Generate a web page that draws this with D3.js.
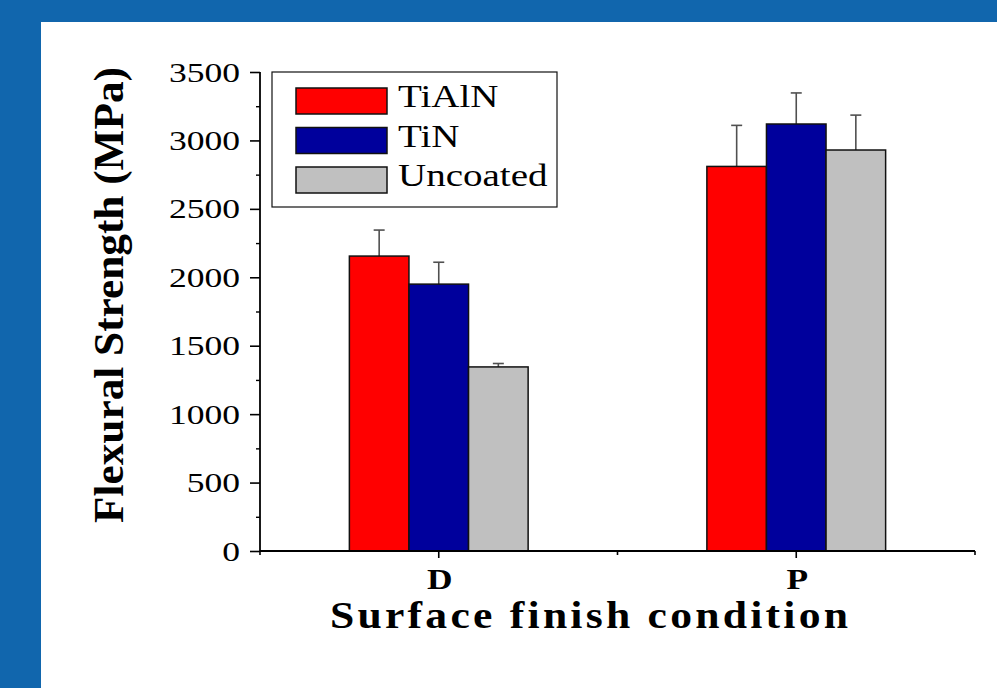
<!DOCTYPE html>
<html>
<head>
<meta charset="utf-8">
<script src="https://cdn.jsdelivr.net/npm/d3@7"></script>
<style>
  body { margin: 0; background: #1166ad; }
  svg { display: block; }
</style>
</head>
<body>
<script>
// data
const categories = ["D", "P"];
const series = ["TiAlN", "TiN", "Uncoated"];
const tialn = [2155, 2810];
const tin = [1950, 3120];
const uncoated = [1345, 2930];
const tialnErr = [190, 300];
const tinErr = [160, 227];
const uncoatedErr = [25, 255];
const yTicks = [0, 500, 1000, 1500, 2000, 2500, 3000, 3500];
const yMinor = [250, 750, 1250, 1750, 2250, 2750, 3250];

const values = [tialn, tin, uncoated];
const errors = [tialnErr, tinErr, uncoatedErr];
const colours = ["#ff0000", "#00009c", "#c0c0c0"];

const W = 997, H = 688;
const font = "'Liberation Serif', 'Times New Roman', serif";

const svg = d3.select("body").append("svg")
  .attr("width", W)
  .attr("height", H);

// blue frame + white sheet
svg.append("rect").attr("width", W).attr("height", H).attr("fill", "#1166ad");
svg.append("rect").attr("x", 41).attr("y", 22).attr("width", W - 41).attr("height", H - 22).attr("fill", "white");

const x0 = d3.scaleBand().domain(categories).range([260, 975]);
const x1 = d3.scaleBand().domain(series).range([0, x0.bandwidth()]).paddingInner(0).paddingOuter(1.5);
const y = d3.scaleLinear().domain([0, 3500]).range([551, 72]);

// stretched text helper (the picture is wider than the type)
function label(g, txt, x, yy, size, sx, anchor, weight) {
  return g.append("text")
    .attr("transform", `translate(${x},${yy}) scale(${sx},1)`)
    .attr("text-anchor", anchor)
    .attr("font-family", font)
    .attr("font-size", size)
    .attr("font-weight", weight || "normal")
    .attr("fill", "black")
    .text(txt);
}

// bars
const bars = svg.append("g").attr("id", "bars");
for (let s = 0; s < series.length; s += 1) {
  for (let c = 0; c < categories.length; c += 1) {
    const bx = x0(categories[c]) + x1(series[s]);
    const v = values[s][c];
    const e = errors[s][c];
    const cx = bx + x1.bandwidth() / 2;
    // error bar (upper only)
    bars.append("line")
      .attr("x1", cx).attr("x2", cx)
      .attr("y1", y(v)).attr("y2", y(v + e))
      .attr("stroke", "#505050").attr("stroke-width", 1.6);
    bars.append("line")
      .attr("x1", cx - 5.5).attr("x2", cx + 5.5)
      .attr("y1", y(v + e)).attr("y2", y(v + e))
      .attr("stroke", "#505050").attr("stroke-width", 1.6);
    bars.append("rect")
      .attr("x", bx)
      .attr("y", y(v))
      .attr("width", x1.bandwidth())
      .attr("height", y(0) - y(v))
      .attr("fill", colours[s])
      .attr("stroke", "#111")
      .attr("stroke-width", 1.5);
  }
}

// y axis
const yAxis = svg.append("g").attr("transform", "translate(260,0)")
  .call(d3.axisLeft(y).tickValues(yTicks).tickSize(10).tickFormat(d3.format("d")));
yAxis.select(".domain").attr("stroke-width", 1.8).attr("d", `M0,${y(3500)}V${y(0)}`);
yAxis.selectAll(".tick line").attr("stroke-width", 1.6);
yAxis.selectAll(".tick text").remove();
svg.append("g").attr("transform", "translate(260,0)")
  .call(d3.axisLeft(y).tickValues(yMinor).tickSize(4).tickFormat(""))
  .call(g => g.select(".domain").remove())
  .selectAll(".tick line").attr("stroke-width", 1.4);
const yl = svg.append("g");
yTicks.forEach(t => label(yl, String(t), 240, y(t) + 9.5, 28, 1.27, "end"));

// x axis
const xAxis = svg.append("g").attr("transform", `translate(0,${y(0)})`)
  .call(d3.axisBottom(x0).tickSize(7).tickFormat(""));
xAxis.select(".domain").attr("stroke-width", 1.8).attr("d", "M260,0H975");
xAxis.selectAll(".tick line").attr("stroke-width", 1.6);
const edges = [x0.range()[0], x0(categories[1]), x0.range()[1]];
edges.forEach(ex => {
  svg.append("line")
    .attr("x1", ex).attr("x2", ex)
    .attr("y1", y(0)).attr("y2", y(0) + 4)
    .attr("stroke", "black").attr("stroke-width", 1.6);
});
const xl = svg.append("g");
categories.forEach(c => label(xl, c, x0(c) + x0.bandwidth() / 2 + 1, 589, 29, 1.22, "middle", "bold"));

// axis titles
label(svg, "Surface finish condition", 589, 628, 37, 1.18, "middle", "bold")
  .attr("textLength", 518 / 1.18)
  .attr("lengthAdjust", "spacing");
svg.append("text")
  .attr("transform", "translate(123,295) rotate(-90) scale(1.17,1.14)")
  .attr("text-anchor", "middle")
  .attr("font-family", font)
  .attr("font-size", 37)
  .attr("font-weight", "bold")
  .text("Flexural Strength (MPa)");

// legend
const lg = svg.append("g");
lg.append("rect")
  .attr("x", 272).attr("y", 72).attr("width", 285).attr("height", 135)
  .attr("fill", "white").attr("stroke", "#111").attr("stroke-width", 1.2);
series.forEach((s, i) => {
  const ly = 88 + i * 39.5;
  lg.append("rect")
    .attr("x", 296).attr("y", ly).attr("width", 91).attr("height", 26)
    .attr("fill", colours[i]).attr("stroke", "#111").attr("stroke-width", 1.5);
  label(lg, s, 398, ly + 19, 32, 1.22, "start");
});
</script>
</body>
</html>
